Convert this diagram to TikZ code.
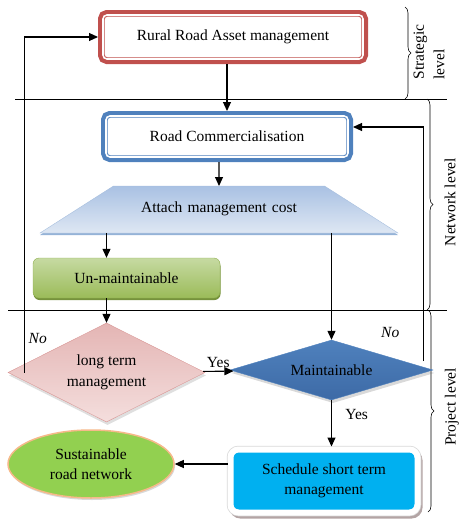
\documentclass[tikz,border=0pt]{standalone}
\usepackage{fontspec}
\setmainfont{Liberation Serif}
\usepackage{xcolor}
\usepackage{tikz}
\usetikzlibrary{arrows.meta,positioning,shapes.geometric,shadows,calc,decorations.pathreplacing}
\definecolor{ruralRed}{HTML}{C0504D}
\definecolor{commBlue}{HTML}{4F81BD}
\definecolor{costTop}{HTML}{A9C1E3}
\definecolor{costBottom}{HTML}{DEE7F3}
\definecolor{costEdge}{HTML}{A7BFDE}
\definecolor{costShadow}{HTML}{95B3D7}
\definecolor{greenTop}{HTML}{C6DAA2}
\definecolor{greenBottom}{HTML}{9BBB59}
\definecolor{greenEdge}{HTML}{8EAD4E}
\definecolor{greenShadow}{HTML}{76923C}
\definecolor{pinkTop}{HTML}{E4B5B4}
\definecolor{pinkBottom}{HTML}{F4DEDD}
\definecolor{pinkEdge}{HTML}{D99594}
\definecolor{maintTop}{HTML}{4F81BD}
\definecolor{maintMid}{HTML}{8CA9D5}
\definecolor{maintBottom}{HTML}{3D6AA6}
\definecolor{schedCyan}{HTML}{00B0F0}
\definecolor{schedRim}{HTML}{D9D9D9}
\definecolor{schedShadow}{HTML}{B3A4A4}
\definecolor{goalGreen}{HTML}{92D050}
\definecolor{goalEdge}{HTML}{F6B98A}
\newcommand{\diagfont}{\fontsize{15.5}{20.5}\selectfont}
\tikzset{
    moldura/.style={
        rectangle,
        rounded corners=4pt,
        fill=white,
        draw=#1,
        line width=0.9pt,
        double=white,
        double distance=1.6pt,
        preaction={draw=#1, line width=10pt},
        outer sep=5pt,
        align=center
    },
    custo/.style={
        trapezium,
        trapezium left angle=32.6,
        trapezium right angle=32.6,
        text width=211pt,
        align=center,
        text height=10.5pt,
        text depth=4.5pt,
        inner xsep=0pt,
        inner ysep=16pt,
        outer sep=0pt,
        draw=costEdge,
        top color=costTop,
        bottom color=costBottom,
        drop shadow={shadow xshift=0pt, shadow yshift=-2pt, fill=costShadow, opacity=1}
    },
    naoMantido/.style={
        rectangle,
        rounded corners=6pt,
        minimum width=187pt,
        minimum height=40pt,
        draw=greenEdge,
        top color=greenTop,
        bottom color=greenBottom,
        drop shadow={shadow xshift=0.5pt, shadow yshift=-2pt, fill=greenShadow, opacity=1}
    },
    longoPrazo/.style={
        diamond,
        aspect=2,
        align=center,
        inner sep=0pt,
        minimum width=197pt,
        minimum height=99pt,
        draw=pinkEdge,
        top color=pinkTop,
        bottom color=pinkBottom,
        drop shadow={shadow xshift=1pt, shadow yshift=-3pt, opacity=0.25}
    },
    mantido/.style={
        diamond,
        aspect=3.4,
        inner sep=0pt,
        minimum width=203pt,
        minimum height=60pt,
        draw=maintTop,
        top color=maintTop,
        middle color=maintMid,
        bottom color=maintBottom,
        drop shadow={shadow xshift=1.5pt, shadow yshift=-3pt, opacity=0.3}
    },
    agenda/.style={
        drop shadow={shadow xshift=2pt, shadow yshift=-3pt, fill=schedShadow,
                     draw=schedShadow, line width=6pt, opacity=1},
        preaction={draw=schedRim, line width=7.5pt},
        rectangle,
        rounded corners=8pt,
        align=center,
        minimum width=187pt,
        minimum height=63pt,
        fill=schedCyan,
        draw=white,
        line width=6pt
    },
    objetivo/.style={
        ellipse,
        align=center,
        inner sep=0pt,
        minimum width=166pt,
        minimum height=68pt,
        fill=goalGreen,
        draw=goalEdge,
        line width=1.5pt,
        drop shadow={shadow xshift=1pt, shadow yshift=-2pt, opacity=0.3}
    },
    fluxo/.style={-{Triangle[length=9pt, width=8pt]}, line width=1.1pt},
    divisor/.style={line width=0.7pt},
    chave/.style={decorate, decoration={brace, amplitude=6pt}, line width=0.6pt},
    nivel/.style={rotate=90, inner sep=0pt},
    rotulo/.style={font=\diagfont\itshape}
}

\begin{document}
\begin{tikzpicture}[x=1pt, y=-1pt, font=\diagfont]
    \useasboundingbox (0,0) rectangle (468,525);

    % levels
    \draw[divisor] (15,99) -- (447,99);
    \draw[divisor] (8,310) -- (447,310);
    \draw[chave] (405,7) -- (405,99);
    \draw[chave] (427,99) -- (427,310);
    \draw[chave] (428,310) -- (428,512);
    \node[nivel, align=left] (strategic) at (429,52) {Strategic\\level};
    \node[nivel] (network) at (450,202) {Network level};
    \node[nivel] (project) at (452,407) {Project level};

    \node[moldura=ruralRed, minimum width=260pt, minimum height=44pt] (rural) at (233,37)
        {Rural Road Asset management};
    \node[moldura=commBlue, minimum width=242pt, minimum height=41pt,
          below=47pt of rural, xshift=-6pt] (comm) {Road Commercialisation};
    \node[custo, below=24pt of comm, xshift=-8pt] (attach) {Attach management cost};
    \node[naoMantido] (unmaint) at (126.5,278) {Un-maintainable};
    \node[longoPrazo] (longterm) at (106.5,372.5) {long term\\management};
    \node[mantido] (maint) at (331.5,370) {Maintainable};
    \node[agenda] (sched) at (324,481) {Schedule short term\\management};
    \node[objetivo] (sustain) at (91,464) {Sustainable\\road network};

    \draw[fluxo] (comm |- rural.south) -- (comm);
    \draw[fluxo] (attach |- comm.south) -- (attach);
    \draw[fluxo] (longterm |- attach.south) -- (longterm |- unmaint.north);
    \draw[fluxo] (longterm |- unmaint.south) -- (longterm);
    \draw[fluxo] (maint |- attach.south) -- (maint);
    \draw[fluxo] (longterm) -- node[above] {Yes} (maint);
    \draw[fluxo] (maint) -- node[pos=0.3, right=10pt] {Yes} (maint |- sched.north);
    \draw[fluxo] (sched.west |- sustain) -- (sustain);
    \draw[fluxo] ($(longterm.west)+(17,0)$) |- node[pos=0.05, right, rotulo] {No} (rural.west);
    \draw[fluxo] ($(maint.east)+(-10,-9)$) |- node[pos=0.06, left=20pt, rotulo] {No}
        ([yshift=9.5pt]comm.east);
\end{tikzpicture}
\end{document}
